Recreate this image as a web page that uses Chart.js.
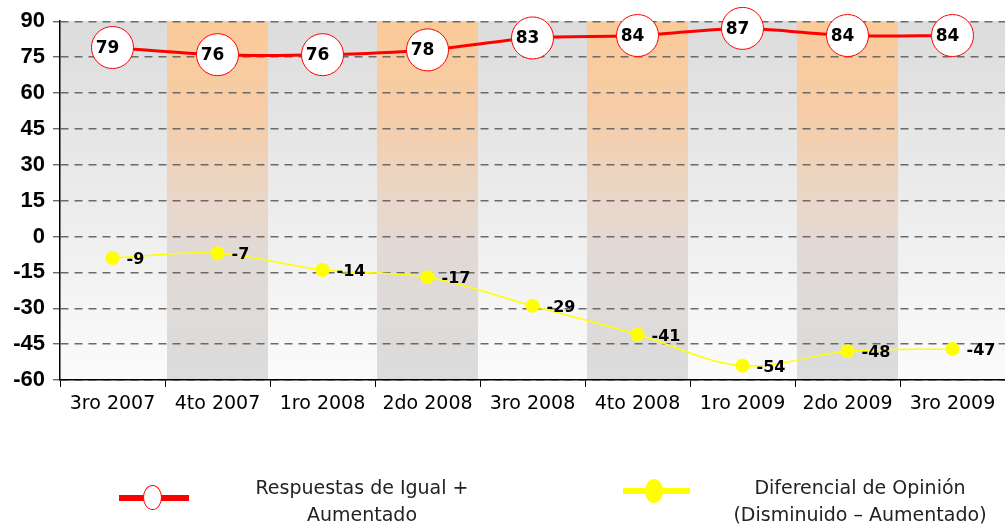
<!DOCTYPE html>
<html>
<head>
<meta charset="utf-8">
<script src="https://cdn.jsdelivr.net/npm/chart.js@4.4.1/dist/chart.umd.min.js"></script>
<style>
  html,body{margin:0;padding:0;background:#fff;}
  #wrap{position:relative;width:1005px;height:529px;}
  canvas{position:absolute;left:0;top:0;}
  .lg{position:absolute;font-family:"DejaVu Sans",sans-serif;font-size:19px;color:#222;text-align:center;line-height:27px;white-space:nowrap;}
  .sym{position:absolute;}
</style>
</head>
<body>
<div id="wrap">
  <canvas id="c" width="1005" height="529"></canvas>
  <div class="sym" style="left:119px;top:495px;width:70px;height:6px;background:#ff0000;"></div>
  <div class="sym" style="left:143px;top:485px;width:19px;height:25px;border-radius:50%;background:#fff;border:1.5px solid #ff0000;box-sizing:border-box;"></div>
  <div class="lg" style="left:212px;width:300px;top:474px;">Respuestas de Igual +<br>Aumentado</div>
  <div class="sym" style="left:623px;top:488px;width:67px;height:6px;background:#ffff00;"></div>
  <div class="sym" style="left:645px;top:479px;width:18px;height:24px;border-radius:50%;background:#ffff00;"></div>
  <div class="lg" style="left:705px;width:310px;top:474px;">Diferencial de Opinión<br>(Disminuido – Aumentado)</div>
</div>
<script>
const categories = ["3ro 2007","4to 2007","1ro 2008","2do 2008","3ro 2008","4to 2008","1ro 2009","2do 2009","3ro 2009"];
const seriesIgualAumentado = [79,76,76,78,83,84,87,84,84];
const seriesDiferencial = [-9,-7,-14,-17,-29,-41,-54,-48,-47];
const yTicks = [-60,-45,-30,-15,0,15,30,45,60,75,90];

const bandPlugin = {
  id:'bands',
  beforeDraw(chart){
    const {ctx, chartArea:a, scales:{x}} = chart;
    const n = categories.length;
    const half = (x.getPixelForValue(1)-x.getPixelForValue(0))/2;
    const ge = ctx.createLinearGradient(0,a.top,0,a.bottom);
    ge.addColorStop(0,'#dcdcdc');
    ge.addColorStop(0.6,'#efefef');
    ge.addColorStop(1,'#fbfbfb');
    const go = ctx.createLinearGradient(0,a.top,0,a.bottom);
    go.addColorStop(0,'#fbca99');
    go.addColorStop(0.25,'#f6cca6');
    go.addColorStop(0.5,'#e9d7c9');
    go.addColorStop(0.66,'#e0dad6');
    go.addColorStop(1,'#dcdcdc');
    ctx.save();
    ctx.fillStyle=ge;
    ctx.fillRect(a.left,a.top,a.right-a.left,a.bottom-a.top);
    for(let i=1;i<n;i+=2){
      const c = x.getPixelForValue(i);
      ctx.fillStyle=go;
      ctx.fillRect(c-half+2,a.top,half*2-4,a.bottom-a.top);
    }
    for(let i=0;i<n;i+=2){
      const c = x.getPixelForValue(i);
      ctx.fillStyle=ge;
      ctx.fillRect(c-half+1,a.top,half*2-2,a.bottom-a.top);
    }
    ctx.restore();
  }
};

const labelPlugin = {
  id:'vlabels',
  afterDatasetsDraw(chart){
    const ctx = chart.ctx;
    ctx.save();
    ctx.fillStyle='#000';
    ctx.font='bold 17px "DejaVu Sans", sans-serif';
    chart.getDatasetMeta(0).data.forEach((p,i)=>{
      ctx.textAlign='center'; ctx.textBaseline='middle';
      ctx.fillText(String(seriesIgualAumentado[i]), p.x-5, p.y+1);
    });
    ctx.font='bold 16px "DejaVu Sans", sans-serif';
    chart.getDatasetMeta(1).data.forEach((p,i)=>{
      ctx.textAlign='left'; ctx.textBaseline='middle';
      ctx.fillText(String(seriesDiferencial[i]), p.x+14, p.y+2);
    });
    ctx.restore();
  }
};

new Chart(document.getElementById('c'),{
  type:'line',
  data:{
    labels:categories,
    datasets:[
      {label:'Respuestas de Igual + Aumentado', data:seriesIgualAumentado,
       borderColor:'#ff0000', borderWidth:3, tension:0.3,
       pointRadius:21, pointBackgroundColor:'#ffffff', pointBorderColor:'#ff0000', pointBorderWidth:1,
       clip:false},
      {label:'Diferencial de Opinión (Disminuido – Aumentado)', data:seriesDiferencial,
       borderColor:'#ffff00', borderWidth:1.5, tension:0.35,
       pointRadius:7, pointBackgroundColor:'#ffff00', pointBorderColor:'#ffff00', pointBorderWidth:0,
       clip:false}
    ]
  },
  options:{
    responsive:false, animation:false,
    layout:{autoPadding:false, padding:{top:21,right:0,left:0,bottom:0}},
    plugins:{legend:{display:false}, tooltip:{enabled:false}},
    scales:{
      x:{
        offset:true,
        grid:{offset:true, drawOnChartArea:false, color:'#000', tickLength:7},
        border:{color:'#000', width:1.5},
        ticks:{color:'#000', font:{family:'"DejaVu Sans", sans-serif', size:19}, padding:6, maxRotation:0},
        afterFit(s){ s.height = 149; s.paddingLeft = 0; s.paddingRight = 0; }
      },
      y:{
        min:-60, max:90,
        afterBuildTicks(s){ s.ticks = yTicks.map(v=>({value:v})); },
        grid:{color:'#6a6a6a', lineWidth:1.4, tickLength:7, tickBorderDash:[8,6], tickColor:'#6a6a6a'},
        border:{color:'#000', width:1.5, dash:[8,6]},
        ticks:{color:'#000', font:{family:'"Liberation Sans", Arial, sans-serif', size:22, weight:'bold'}, padding:8},
        afterFit(s){ s.width = 60; }
      }
    }
  },
  plugins:[bandPlugin,labelPlugin]
});
</script>
</body>
</html>
